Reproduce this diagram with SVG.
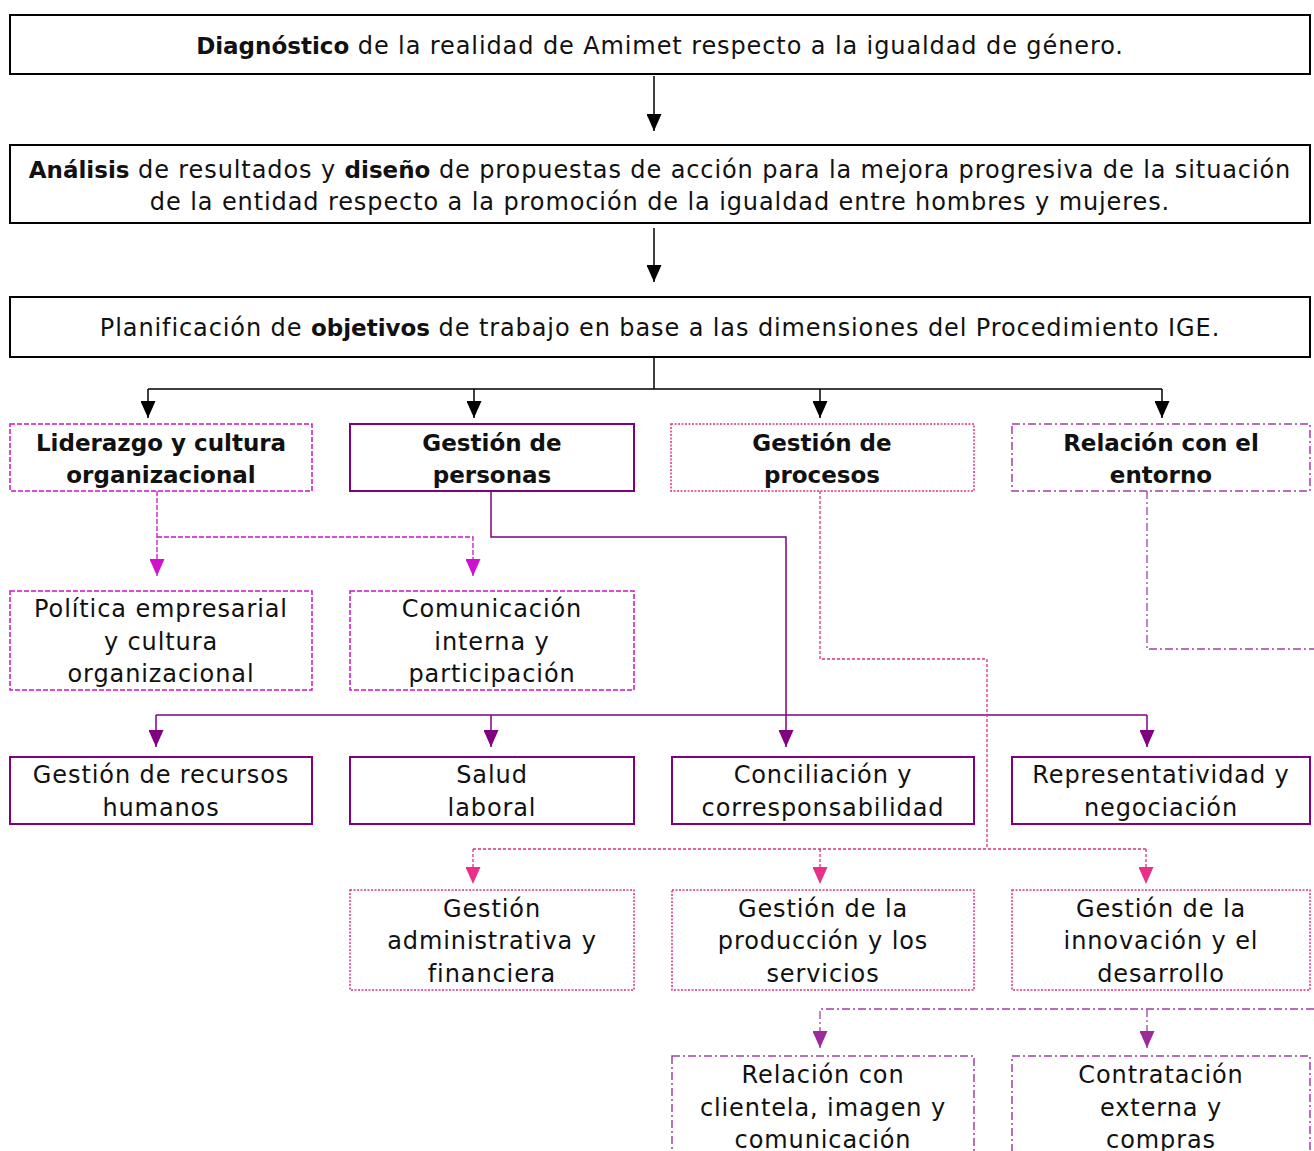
<svg xmlns="http://www.w3.org/2000/svg" width="1314" height="1151" viewBox="0 0 1314 1151">
<style>
text{font-family:"DejaVu Sans","Liberation Sans",sans-serif;font-size:24px;letter-spacing:0.9px;fill:#111;text-anchor:middle}
.b{font-weight:bold;font-size:23px;letter-spacing:0}
.bx{fill:#fff}
.blk{stroke:#000;stroke-width:2}
.mag{stroke:#D010D0;stroke-width:1.5;stroke-dasharray:5 2}
.pur{stroke:#800080;stroke-width:2}
.pnk{stroke:#E0307F;stroke-width:1.5;stroke-dasharray:2 1.5}
.dd{stroke:#A040A8;stroke-width:1.5;stroke-dasharray:8 3 2 3}
.c{fill:none}
.cblk{stroke:#000;stroke-width:1.5}
.cmag{stroke:#D010D0;stroke-width:1.3;stroke-dasharray:5 2}
.cpur{stroke:#800080;stroke-width:1.5}
.cpnk{stroke:#E0307F;stroke-width:1.3;stroke-dasharray:3 2}
.cdd{stroke:#A040A8;stroke-width:1.3;stroke-dasharray:8 3 2 3}
</style>
<defs>
<marker id="aBlk" markerUnits="userSpaceOnUse" markerWidth="17" markerHeight="15" refX="17" refY="7.5" orient="auto"><path d="M0,0 L17,7.5 L0,15 z" fill="#000"/></marker>
<marker id="aMag" markerUnits="userSpaceOnUse" markerWidth="17" markerHeight="15" refX="17" refY="7.5" orient="auto"><path d="M0,0 L17,7.5 L0,15 z" fill="#D010D0"/></marker>
<marker id="aPur" markerUnits="userSpaceOnUse" markerWidth="17" markerHeight="15" refX="17" refY="7.5" orient="auto"><path d="M0,0 L17,7.5 L0,15 z" fill="#800080"/></marker>
<marker id="aPnk" markerUnits="userSpaceOnUse" markerWidth="17" markerHeight="15" refX="17" refY="7.5" orient="auto"><path d="M0,0 L17,7.5 L0,15 z" fill="#E8308A"/></marker>
<marker id="aDd" markerUnits="userSpaceOnUse" markerWidth="17" markerHeight="15" refX="17" refY="7.5" orient="auto"><path d="M0,0 L17,7.5 L0,15 z" fill="#9B2A9B"/></marker>
</defs>

<g id="connectors" class="c">
<path class="c cblk" d="M654,76 V131" marker-end="url(#aBlk)"/>
<path class="c cblk" d="M654,228 V282" marker-end="url(#aBlk)"/>
<path class="c cblk" d="M654,358 V389 M148,389 H1162"/>
<path class="c cblk" d="M148,389 V418" marker-end="url(#aBlk)"/>
<path class="c cblk" d="M474,389 V418" marker-end="url(#aBlk)"/>
<path class="c cblk" d="M820,389 V418" marker-end="url(#aBlk)"/>
<path class="c cblk" d="M1162,389 V418" marker-end="url(#aBlk)"/>

<path class="c cmag" d="M157,491 V576" marker-end="url(#aMag)"/>
<path class="c cmag" d="M157,537 H473 V576" marker-end="url(#aMag)"/>

<path class="c cpur" d="M491,491 V537 H786 V747" marker-end="url(#aPur)"/>
<path class="c cpur" d="M156,715 H1147"/>
<path class="c cpur" d="M156,715 V747" marker-end="url(#aPur)"/>
<path class="c cpur" d="M491,715 V747" marker-end="url(#aPur)"/>
<path class="c cpur" d="M1147,715 V747" marker-end="url(#aPur)"/>

<path class="c cpnk" d="M820,491 V659 H987 V849 M473,849 H1146"/>
<path class="c cpnk" d="M473,849 V884" marker-end="url(#aPnk)"/>
<path class="c cpnk" d="M820,849 V884" marker-end="url(#aPnk)"/>
<path class="c cpnk" d="M1146,849 V884" marker-end="url(#aPnk)"/>

<path class="c cdd" d="M1147,491 V649 H1314"/>
<path class="c cdd" d="M1314,1009 H820 V1048" marker-end="url(#aDd)"/>
<path class="c cdd" d="M1147,1009 V1048" marker-end="url(#aDd)"/>
</g>

<g id="n-diagnostico"><rect class="bx blk" x="10" y="15" width="1300" height="59"/>
<text x="660" y="54"><tspan class="b">Diagnóstico</tspan> de la realidad de Amimet respecto a la igualdad de género.</text></g>

<g id="n-analisis"><rect class="bx blk" x="10" y="145" width="1300" height="78"/>
<text x="660" y="178"><tspan class="b">Análisis</tspan> de resultados y <tspan class="b">diseño</tspan> de propuestas de acción para la mejora progresiva de la situación</text>
<text x="660" y="210">de la entidad respecto a la promoción de la igualdad entre hombres y mujeres.</text></g>

<g id="n-planificacion"><rect class="bx blk" x="10" y="297" width="1300" height="60"/>
<text x="660" y="336">Planificación de <tspan class="b">objetivos</tspan> de trabajo en base a las dimensiones del Procedimiento IGE.</text></g>

<g id="n-liderazgo"><rect class="bx mag" x="10" y="424" width="302" height="67"/>
<text class="b" x="161" y="451">Liderazgo y cultura</text><text class="b" x="161" y="483">organizacional</text></g>
<g id="n-personas"><rect class="bx pur" x="350" y="424" width="284" height="67"/>
<text class="b" x="492" y="451">Gestión de</text><text class="b" x="492" y="483">personas</text></g>
<g id="n-procesos"><rect class="bx pnk" x="671" y="424" width="303" height="67"/>
<text class="b" x="822" y="451">Gestión de</text><text class="b" x="822" y="483">procesos</text></g>
<g id="n-entorno"><rect class="bx dd" x="1012" y="424" width="298" height="67"/>
<text class="b" x="1161" y="451">Relación con el</text><text class="b" x="1161" y="483">entorno</text></g>

<g id="n-politica"><rect class="bx mag" x="10" y="591" width="302" height="99"/>
<text x="161" y="617">Política empresarial</text><text x="161" y="650">y cultura</text><text x="161" y="682">organizacional</text></g>
<g id="n-comunicacion"><rect class="bx mag" x="350" y="591" width="284" height="99"/>
<text x="492" y="617">Comunicación</text><text x="492" y="650">interna y</text><text x="492" y="682">participación</text></g>

<g id="n-rrhh"><rect class="bx pur" x="10" y="757" width="302" height="67"/>
<text x="161" y="783">Gestión de recursos</text><text x="161" y="816">humanos</text></g>
<g id="n-salud"><rect class="bx pur" x="350" y="757" width="284" height="67"/>
<text x="492" y="783">Salud</text><text x="492" y="816">laboral</text></g>
<g id="n-conciliacion"><rect class="bx pur" x="672" y="757" width="302" height="67"/>
<text x="823" y="783">Conciliación y</text><text x="823" y="816">corresponsabilidad</text></g>
<g id="n-representatividad"><rect class="bx pur" x="1012" y="757" width="298" height="67"/>
<text x="1161" y="783">Representatividad y</text><text x="1161" y="816">negociación</text></g>

<g id="n-administrativa"><rect class="bx pnk" x="350" y="890" width="284" height="100"/>
<text x="492" y="917">Gestión</text><text x="492" y="949">administrativa y</text><text x="492" y="982">financiera</text></g>
<g id="n-produccion"><rect class="bx pnk" x="672" y="890" width="302" height="100"/>
<text x="823" y="917">Gestión de la</text><text x="823" y="949">producción y los</text><text x="823" y="982">servicios</text></g>
<g id="n-innovacion"><rect class="bx pnk" x="1012" y="890" width="298" height="100"/>
<text x="1161" y="917">Gestión de la</text><text x="1161" y="949">innovación y el</text><text x="1161" y="982">desarrollo</text></g>

<g id="n-clientela"><rect class="bx dd" x="672" y="1056" width="302" height="110"/>
<text x="823" y="1083">Relación con</text><text x="823" y="1116">clientela, imagen y</text><text x="823" y="1148">comunicación</text></g>
<g id="n-contratacion"><rect class="bx dd" x="1012" y="1056" width="298" height="110"/>
<text x="1161" y="1083">Contratación</text><text x="1161" y="1116">externa y</text><text x="1161" y="1148">compras</text></g>
</svg>
